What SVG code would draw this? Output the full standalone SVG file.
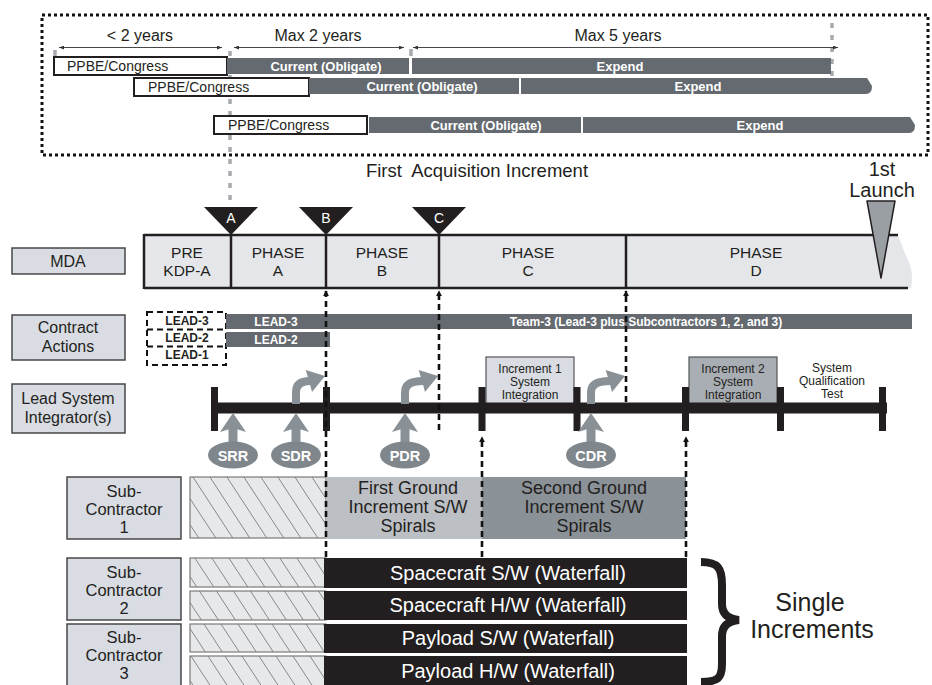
<svg xmlns="http://www.w3.org/2000/svg" width="932" height="685" viewBox="0 0 932 685">
  <style>
    text { font-family: "Liberation Sans", Arial, sans-serif; fill: #231f20; }
    .mid { text-anchor: middle; }
    .wb { fill: #ffffff; font-weight: bold; text-anchor: middle; }
    .wn { fill: #ffffff; text-anchor: middle; }
    .bar { fill: #646a6f; }
    .ppbe { fill: #ffffff; stroke: #231f20; stroke-width: 2; }
    .lbl { fill: #d9dce3; stroke: #474747; stroke-width: 1.5; }
    .hatch { fill: url(#hatch); stroke: #7a7a7a; stroke-width: 1.2; }
    .blk { fill: #231f20; }
    .tick { fill: #231f20; }
    .rev { fill: #7f878d; }
    .garrow { fill: #8a9196; }
    .gshaft { fill: none; stroke: #8a9196; stroke-width: 8; }
    .dash { fill: none; stroke: #111111; stroke-width: 2.6; stroke-dasharray: 6 4; marker-end: url(#up); }
    .dim { fill: none; stroke: #333333; stroke-width: 0.9; marker-start: url(#dim); marker-end: url(#dim); }
    .gdash { fill: none; stroke: #a6aaae; stroke-width: 3.5; stroke-dasharray: 5 7; }
    .div { stroke: #231f20; stroke-width: 2.5; }
  </style>
  <defs>
    <pattern id="hatch" patternUnits="userSpaceOnUse" width="17" height="26">
      <rect width="17" height="26" fill="#e7e8ea"/>
      <path d="M0,0 L17,26 M-17,0 L0,26 M17,0 L34,26" stroke="#6e6e6e" stroke-width="0.8"/>
    </pattern>
    <marker id="up" viewBox="0 0 8 8" refX="7" refY="4" markerWidth="6" markerHeight="6" markerUnits="userSpaceOnUse" orient="auto">
      <path d="M0,0 L8,4 L0,8 z" fill="#111111"/>
    </marker>
    <marker id="dim" viewBox="0 0 8 6" refX="8" refY="3" markerWidth="5" markerHeight="4" markerUnits="userSpaceOnUse" orient="auto-start-reverse">
      <path d="M0,0 L8,3 L0,6 z" fill="#333333"/>
    </marker>
  </defs>

  <!-- Funding timeline panel -->
  <g id="funding">
    <path class="gdash" d="M230,51 V204"/>
    <path class="gdash" d="M832,23 V77"/>
    <path d="M55,50 V56 M411,49 V56" stroke="#a6aaae" stroke-width="3.5"/>
    <rect x="42" y="15" width="886" height="140" fill="none" stroke="#111111" stroke-width="3" stroke-dasharray="3 3"/>

    <text x="140" y="41" class="mid" font-size="16">&lt; 2 years</text>
    <text x="318" y="41" class="mid" font-size="16">Max 2 years</text>
    <text x="618" y="41" class="mid" font-size="16">Max 5 years</text>
    <path class="dim" d="M59,47.5 H222"/>
    <path class="dim" d="M234,47.5 H404"/>
    <path class="dim" d="M413,47.5 H838"/>

    <g id="fund-row1">
      <rect class="ppbe" x="54" y="57" width="173" height="18"/>
      <text x="67" y="71" font-size="14">PPBE/Congress</text>
      <rect class="bar" x="227" y="58" width="182" height="16"/>
      <text x="326" y="71" class="wb" font-size="13">Current (Obligate)</text>
      <rect class="bar" x="412" y="58" width="419" height="16"/>
      <text x="620" y="71" class="wb" font-size="13">Expend</text>
    </g>
    <g id="fund-row2">
      <rect class="ppbe" x="134" y="78" width="175" height="18"/>
      <text x="148" y="92" font-size="14">PPBE/Congress</text>
      <rect class="bar" x="309" y="78" width="210" height="16"/>
      <text x="422" y="91" class="wb" font-size="13">Current (Obligate)</text>
      <path class="bar" d="M521,78 H867 L872,86 Q872,94 866,94 H521 Z"/>
      <text x="698" y="91" class="wb" font-size="13">Expend</text>
    </g>
    <g id="fund-row3">
      <rect class="ppbe" x="214" y="116" width="153" height="18"/>
      <text x="228" y="130" font-size="14">PPBE/Congress</text>
      <rect class="bar" x="369" y="117" width="212" height="16"/>
      <text x="486" y="130" class="wb" font-size="13">Current (Obligate)</text>
      <path class="bar" d="M583,117 H910 L915,125 Q915,133 909,133 H583 Z"/>
      <text x="760" y="130" class="wb" font-size="13">Expend</text>
    </g>

    <text x="477" y="177" class="mid" font-size="18.5" xml:space="preserve">First  Acquisition Increment</text>
    <text x="882" y="176" class="mid" font-size="20">1st</text>
    <text x="882" y="197" class="mid" font-size="20">Launch</text>
  </g>

  <!-- Row labels -->
  <g id="mda-label">
    <rect class="lbl" x="12" y="248" width="113" height="26"/>
    <text x="68" y="267" class="mid" font-size="16">MDA</text>
  </g>
  <g id="contract-label">
    <rect class="lbl" x="12" y="315" width="113" height="45"/>
    <text x="68" y="333" class="mid" font-size="16">Contract</text>
    <text x="68" y="352" class="mid" font-size="16">Actions</text>
  </g>
  <g id="lsi-label">
    <rect class="lbl" x="12" y="384" width="113" height="49"/>
    <text x="68" y="404" class="mid" font-size="16">Lead System</text>
    <text x="68" y="423" class="mid" font-size="16">Integrator(s)</text>
  </g>
  <g id="sub1-label">
    <rect class="lbl" x="67" y="477" width="114" height="62"/>
    <text x="124" y="497" class="mid" font-size="16.5">Sub-</text>
    <text x="124" y="515" class="mid" font-size="16.5">Contractor</text>
    <text x="124" y="533" class="mid" font-size="16.5">1</text>
  </g>
  <g id="sub2-label">
    <rect class="lbl" x="67" y="558" width="114" height="62"/>
    <text x="124" y="578" class="mid" font-size="16.5">Sub-</text>
    <text x="124" y="596" class="mid" font-size="16.5">Contractor</text>
    <text x="124" y="614" class="mid" font-size="16.5">2</text>
  </g>
  <g id="sub3-label">
    <rect class="lbl" x="67" y="624" width="114" height="66"/>
    <text x="124" y="643" class="mid" font-size="16.5">Sub-</text>
    <text x="124" y="661" class="mid" font-size="16.5">Contractor</text>
    <text x="124" y="679" class="mid" font-size="16.5">3</text>
  </g>

  <!-- MDA phases -->
  <g id="phases">
    <path d="M144,235 H898 C902,245 904,252 908,260 C912,268 913,278 911,288 H144 Z" fill="#e4e6ea"/>
    <path d="M144,235 H898 M144,288 H908 M144,234 V289" fill="none" stroke="#231f20" stroke-width="2.5"/>
    <path class="div" d="M231,235 V288 M326,235 V288 M439,235 V288 M626,235 V288"/>
    <text x="187" y="258" class="mid" font-size="15.5">PRE</text>
    <text x="187" y="276" class="mid" font-size="15.5">KDP-A</text>
    <text x="278" y="258" class="mid" font-size="15.5">PHASE</text>
    <text x="278" y="276" class="mid" font-size="15.5">A</text>
    <text x="382" y="258" class="mid" font-size="15.5">PHASE</text>
    <text x="382" y="276" class="mid" font-size="15.5">B</text>
    <text x="528" y="258" class="mid" font-size="15.5">PHASE</text>
    <text x="528" y="276" class="mid" font-size="15.5">C</text>
    <text x="756" y="258" class="mid" font-size="15.5">PHASE</text>
    <text x="756" y="276" class="mid" font-size="15.5">D</text>
  </g>

  <!-- Key decision points -->
  <g id="kdp-a">
    <polygon class="blk" points="204,207 258,207 231,235"/>
    <text x="231" y="223" class="wn" font-size="14">A</text>
  </g>
  <g id="kdp-b">
    <polygon class="blk" points="299,207 353,207 326,235"/>
    <text x="326" y="223" class="wn" font-size="14">B</text>
  </g>
  <g id="kdp-c">
    <polygon class="blk" points="412,207 466,207 439,235"/>
    <text x="439" y="223" class="wn" font-size="14">C</text>
  </g>
  <g id="launch">
    <polygon points="867,201 895,201 881,278" fill="#9a9fa4" stroke="#231f20" stroke-width="1.5" stroke-linejoin="round"/>
  </g>

  <!-- Contract actions -->
  <g id="contracts">
    <rect x="147" y="312" width="79" height="53" fill="none" stroke="#111111" stroke-width="2" stroke-dasharray="6 4"/>
    <path d="M147,329.5 H226 M147,346.5 H226" stroke="#111111" stroke-width="2" stroke-dasharray="6 4"/>
    <text x="187" y="325" class="mid" font-size="12" font-weight="bold">LEAD-3</text>
    <text x="187" y="342" class="mid" font-size="12" font-weight="bold">LEAD-2</text>
    <text x="187" y="359" class="mid" font-size="12" font-weight="bold">LEAD-1</text>
    <rect class="bar" x="226" y="314" width="686" height="15"/>
    <text x="276" y="326" class="wb" font-size="12">LEAD-3</text>
    <text x="646" y="326" class="wb" font-size="12">Team-3 (Lead-3 plus Subcontractors 1, 2, and 3)</text>
    <rect class="bar" x="226" y="332" width="104" height="15"/>
    <text x="276" y="344" class="wb" font-size="12">LEAD-2</text>
  </g>

  <!-- Lead system integrator timeline -->
  <g id="inc1-integration">
    <rect x="486" y="357" width="88" height="47" fill="#d9dce3" stroke="#555555" stroke-width="1.2"/>
    <text x="530" y="373" class="mid" font-size="12">Increment 1</text>
    <text x="530" y="386" class="mid" font-size="12">System</text>
    <text x="530" y="399" class="mid" font-size="12">Integration</text>
  </g>
  <g id="inc2-integration">
    <rect x="689" y="357" width="88" height="47" fill="#a9aeb4" stroke="#555555" stroke-width="1.2"/>
    <text x="733" y="373" class="mid" font-size="12">Increment 2</text>
    <text x="733" y="386" class="mid" font-size="12">System</text>
    <text x="733" y="399" class="mid" font-size="12">Integration</text>
  </g>
  <g id="qualification">
    <text x="832" y="372" class="mid" font-size="12">System</text>
    <text x="832" y="385" class="mid" font-size="12">Qualification</text>
    <text x="832" y="398" class="mid" font-size="12">Test</text>
  </g>
  <g id="lsi-timeline">
    <rect class="tick" x="211" y="402.5" width="676" height="11"/>
    <rect class="tick" x="211" y="387" width="7" height="44"/>
    <rect class="tick" x="323" y="387" width="7" height="44"/>
    <rect class="tick" x="478.5" y="387" width="7" height="44"/>
    <rect class="tick" x="573.5" y="387" width="7" height="44"/>
    <rect class="tick" x="682" y="387" width="7" height="44"/>
    <rect class="tick" x="777" y="387" width="7" height="44"/>
    <rect class="tick" x="879" y="387" width="7" height="44"/>
  </g>

  <!-- Reviews -->
  <g id="srr">
    <rect class="garrow" x="228.5" y="428" width="9" height="16"/>
    <polygon class="garrow" points="233,413 246,432 233,428 220,432"/>
    <ellipse class="rev" cx="233" cy="455" rx="25" ry="13.5"/>
    <text x="233" y="460.5" class="wb" font-size="14.5">SRR</text>
  </g>
  <g id="sdr">
    <rect class="garrow" x="291.5" y="428" width="9" height="16"/>
    <polygon class="garrow" points="296,413 309,432 296,428 283,432"/>
    <ellipse class="rev" cx="296" cy="455" rx="25" ry="13.5"/>
    <text x="296" y="460.5" class="wb" font-size="14.5">SDR</text>
    <path class="gshaft" d="M296,404 V392 Q296,381 310,381"/>
    <polygon class="garrow" points="325,376 312,392 309,381 305.7,370"/>
  </g>
  <g id="pdr">
    <rect class="garrow" x="400.5" y="428" width="9" height="16"/>
    <polygon class="garrow" points="405,413 418,432 405,428 392,432"/>
    <ellipse class="rev" cx="405" cy="455" rx="25" ry="13.5"/>
    <text x="405" y="460.5" class="wb" font-size="14.5">PDR</text>
    <path class="gshaft" d="M405,404 V392 Q405,381 423,381"/>
    <polygon class="garrow" points="438,376 425,392 422,381 418.7,370"/>
  </g>
  <g id="cdr">
    <rect class="garrow" x="586.5" y="428" width="9" height="16"/>
    <polygon class="garrow" points="591,413 604,432 591,428 578,432"/>
    <ellipse class="rev" cx="591" cy="455" rx="25" ry="13.5"/>
    <text x="591" y="460.5" class="wb" font-size="14.5">CDR</text>
    <path class="gshaft" d="M591,404 V392 Q591,381 610,381"/>
    <polygon class="garrow" points="625,376 612,392 609,381 605.7,370"/>
  </g>

  <!-- Subcontractor work -->
  <g id="sub1-work">
    <rect class="hatch" x="190" y="477" width="136" height="61"/>
    <rect x="326" y="477" width="156" height="62" fill="#bcc0c5"/>
    <text x="408" y="494" class="mid" font-size="18">First Ground</text>
    <text x="408" y="513" class="mid" font-size="18">Increment S/W</text>
    <text x="408" y="532" class="mid" font-size="18">Spirals</text>
    <rect x="482" y="477" width="204" height="62" fill="#8a9197"/>
    <text x="584" y="494" class="mid" font-size="18">Second Ground</text>
    <text x="584" y="513" class="mid" font-size="18">Increment S/W</text>
    <text x="584" y="532" class="mid" font-size="18">Spirals</text>
  </g>
  <g id="sub2-work">
    <rect class="hatch" x="190" y="558" width="136" height="29"/>
    <rect class="hatch" x="190" y="591" width="136" height="29"/>
    <rect class="blk" x="324" y="558" width="363" height="30"/>
    <text x="508" y="580" class="wn" font-size="20">Spacecraft S/W (Waterfall)</text>
    <rect class="blk" x="324" y="591" width="363" height="29"/>
    <text x="508" y="612" class="wn" font-size="20">Spacecraft H/W (Waterfall)</text>
  </g>
  <g id="sub3-work">
    <rect class="hatch" x="190" y="624" width="136" height="28"/>
    <rect class="hatch" x="190" y="656" width="136" height="31"/>
    <rect class="blk" x="324" y="624" width="363" height="29"/>
    <text x="508" y="645" class="wn" font-size="20">Payload S/W (Waterfall)</text>
    <rect class="blk" x="324" y="656" width="363" height="30"/>
    <text x="508" y="678" class="wn" font-size="20">Payload H/W (Waterfall)</text>
  </g>

  <!-- Grouping brace -->
  <g id="single-increments">
    <path d="M701,562 C718,562 722,568 722,585 L722,604 C722,614 728,619 739,620 C728,621 722,626 722,636 L722,664 C722,678 718,682 701,682" fill="none" stroke="#231f20" stroke-width="8"/>
    <text x="810" y="611" class="mid" font-size="25">Single</text>
    <text x="812" y="638" class="mid" font-size="25">Increments</text>
  </g>

  <!-- Milestone connectors -->
  <g id="connectors">
    <path class="dash" d="M326,557 V291"/>
    <path class="dash" d="M439,430 V291"/>
    <path class="dash" d="M626,402 V291"/>
    <path class="dash" d="M482,557 V437"/>
    <path class="dash" d="M686,557 V437"/>
  </g>
</svg>
